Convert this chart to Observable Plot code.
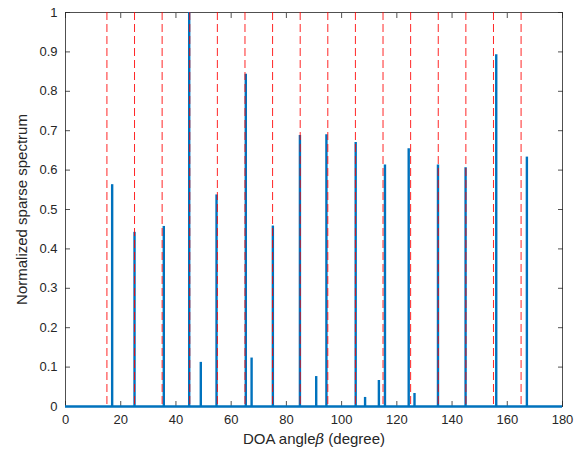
<!DOCTYPE html>
<html>
<head>
<meta charset="utf-8">
<script src="https://cdn.jsdelivr.net/npm/d3@7"></script>
<script src="https://cdn.jsdelivr.net/npm/@observablehq/plot@0.6"></script>
<style>
  html, body { margin: 0; padding: 0; background: #fff; }
</style>
</head>
<body>
<div id="chart"></div>
<script>
// Estimated spectrum peaks (DOA angle in degrees, normalized amplitude)
const peakAngles = [16.9, 25, 35.6, 44.8, 49, 54.7, 65.3, 67.4, 75.1, 84.9, 90.8, 94.5, 105.1, 108.5, 113.5, 115.7, 124.3, 126.4, 134.9, 144.9, 156, 167.1];
const peakValues = [0.563, 0.442, 0.457, 1.0, 0.112, 0.537, 0.843, 0.123, 0.458, 0.688, 0.076, 0.69, 0.670, 0.023, 0.066, 0.613, 0.654, 0.033, 0.613, 0.606, 0.893, 0.633];
// True source directions (red dashed lines)
const trueAngles = [15, 25, 35, 45, 55, 65, 75, 85, 95, 105, 115, 125, 135, 145, 155, 165];
// Axis ticks
const xTicks = [0, 20, 40, 60, 80, 100, 120, 140, 160, 180];
const yTicks = [0, 0.1, 0.2, 0.3, 0.4, 0.5, 0.6, 0.7, 0.8, 0.9, 1];
const yTickLabels = ["0", "0.1", "0.2", "0.3", "0.4", "0.5", "0.6", "0.7", "0.8", "0.9", "1"];
const xRange = [0, 180];

const peaks = peakAngles.map((a, i) => ({angle: a, value: peakValues[i]}));
const blue = "#0072BD";
const axisColor = "#262626";
const xLabel = "DOA angleβ (degree)";
const yLabel = "Normalized sparse spectrum";

const chart = Plot.plot({
  width: 585,
  height: 456,
  marginLeft: 65,
  marginRight: 23,
  marginTop: 12,
  marginBottom: 50,
  x: {domain: xRange, label: null},
  y: {domain: [0, 1], label: null},
  style: {fontFamily: "'Liberation Sans', Arial, Helvetica, sans-serif", fontSize: "13px", color: axisColor, background: "#fff"},
  marks: [
    Plot.frame({stroke: axisColor, strokeWidth: 0.8}),
    Plot.axisX(xTicks, {anchor: "bottom", tickSize: 0, tickPadding: 8, fill: axisColor, fontSize: 13}),
    Plot.axisX(xTicks, {anchor: "bottom", tickSize: 5, dy: -5, fill: "none", stroke: axisColor, strokeWidth: 0.8}),
    Plot.axisX(xTicks, {anchor: "top", tickSize: 5, dy: 5, fill: "none", stroke: axisColor, strokeWidth: 0.8}),
    Plot.axisY(yTicks, {anchor: "left", tickSize: 0, tickPadding: 8, fill: axisColor, fontSize: 13, tickFormat: (d, i) => yTickLabels[i]}),
    Plot.axisY(yTicks, {anchor: "left", tickSize: 5, dx: 5, fill: "none", stroke: axisColor, strokeWidth: 0.8}),
    Plot.axisY(yTicks, {anchor: "right", tickSize: 5, dx: -5, fill: "none", stroke: axisColor, strokeWidth: 0.8}),
    Plot.ruleY([0], {x1: xRange[0], x2: xRange[1], stroke: blue, strokeWidth: 2.5}),
    Plot.ruleX(peaks, {x: "angle", y1: 0, y2: "value", stroke: blue, strokeWidth: 2.4}),
    Plot.ruleX(trueAngles, {stroke: "#ff0000", strokeWidth: 1, strokeDasharray: "8,4", strokeOpacity: 0.85}),
    Plot.text([xLabel], {frameAnchor: "bottom", dy: 37, fontSize: 15, fill: axisColor, textAnchor: "middle"}),
    Plot.text([yLabel], {frameAnchor: "left", dx: -43, rotate: -90, fontSize: 15, fill: axisColor, textAnchor: "middle"})
  ]
});

document.getElementById("chart").appendChild(chart);

// Render β in italic as in the original TeX label
d3.select(chart).selectAll("text").each(function() {
  if (this.textContent === xLabel) {
    const t = d3.select(this);
    t.text(null);
    t.append("tspan").text("DOA angle");
    t.append("tspan").attr("font-style", "italic").attr("font-family", "'DejaVu Serif', 'Liberation Serif', serif").text("β");
    t.append("tspan").text(" (degree)");
  }
});
</script>
</body>
</html>
